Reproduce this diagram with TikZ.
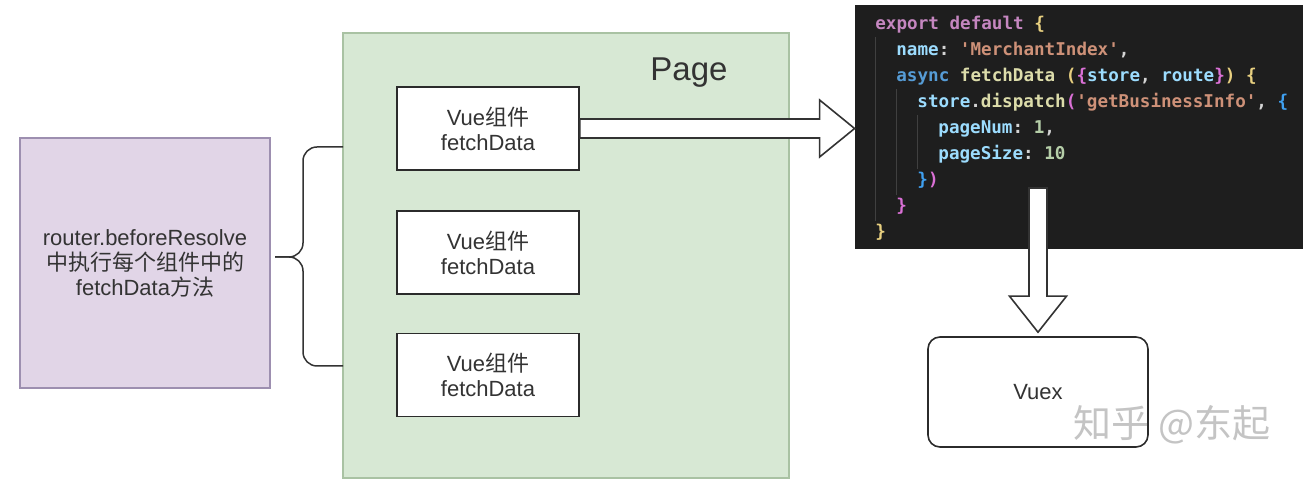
\documentclass[tikz,border=0pt]{standalone}
\usepackage{fontspec}
\setmainfont{Liberation Sans}
\setmonofont{DejaVu Sans Mono}
\newfontfamily\cjk{Noto Sans CJK SC}
\usetikzlibrary{calc}
\definecolor{purplefill}{HTML}{E1D5E7}
\definecolor{purpleline}{HTML}{9D8FB0}
\definecolor{greenfill}{HTML}{D7E8D4}
\definecolor{greenline}{HTML}{A9C2A3}
\definecolor{txt}{HTML}{333333}
\definecolor{boxline}{HTML}{2B2B2B}
\definecolor{arrline}{HTML}{333333}
\definecolor{codebg}{HTML}{1E1E1E}
\definecolor{ckw}{HTML}{C586C0}
\definecolor{cvar}{HTML}{9CDCFE}
\definecolor{cstr}{HTML}{CE9178}
\definecolor{cfn}{HTML}{DCDCAA}
\definecolor{cblue}{HTML}{569CD6}
\definecolor{cnum}{HTML}{B5CEA8}
\definecolor{cbra}{HTML}{E8D080}
\definecolor{cpink}{HTML}{DA70D6}
\definecolor{cbrb}{HTML}{3FA0F0}
\definecolor{cpunc}{HTML}{D4D4D4}
\definecolor{cguide}{HTML}{404040}
\definecolor{wmark}{HTML}{C4C4C4}
\newcommand{\codec}[2]{{\color{#1}#2}}
\begin{document}
\begin{tikzpicture}[x=0.5pt,y=-0.5pt,
  lbl/.style={font=\fontsize{11pt}{12.5pt}\selectfont, text=txt, align=center},
  vuebox/.style={draw=boxline, line width=0.8pt, fill=white, minimum width=91pt, minimum height=41.5pt, inner sep=0pt, lbl},
  bigarrow/.style={draw=arrline, line width=0.8pt, fill=white, line join=miter},
  codeline/.style={anchor=base west, inner sep=0pt, font=\ttfamily\bfseries\fontsize{8.8pt}{10pt}\selectfont},
  guide/.style={draw=cguide, line width=0.5pt},
  bracestyle/.style={draw=arrline, line width=0.75pt, rounded corners=7pt},
]
\useasboundingbox (0,0) rectangle (1314,490);
\fill[white] (0,0) rectangle (1314,490);

% Page container
\node[draw=greenline, fill=greenfill, line width=0.6pt, minimum width=223pt, minimum height=222.5pt, inner sep=0pt] (page) at (566,255.5) {};
\node[font=\fontsize{16.5pt}{18pt}\selectfont, text=txt, inner sep=0pt] (pagelabel) at (689,73) {Page};

% router box
\node[draw=purpleline, fill=purplefill, line width=0.6pt, minimum width=125pt, minimum height=125pt, inner sep=0pt, lbl] (router) at (145,263)
  {router.beforeResolve\\{\cjk 中执行每个组件中的}\\fetchData{\cjk 方法}};

% Vue components
\node[vuebox] (v1) at (488,128.5) {Vue{\cjk 组件}\\fetchData};
\node[vuebox] (v2) at (488,252.5) {Vue{\cjk 组件}\\fetchData};
\node[vuebox] (v3) at (488,375) {Vue{\cjk 组件}\\fetchData};

% brace
\coordinate (btop) at (343,147);
\coordinate (bbot) at (343,366);
\coordinate (btip) at (275,257);
\draw[bracestyle] (btop) -- (303,147) -- (303,257) -- (btip);
\draw[bracestyle] (bbot) -- (303,366) -- (303,257) -- (btip);

% code box
\node[fill=codebg, minimum width=224pt, minimum height=122pt, inner sep=0pt] (code) at (1079,127) {};
\draw[guide] (875,37) -- (875,221);
\draw[guide] (896,89) -- (896,195);
\draw[guide] (917,115) -- (917,169);
\node[codeline] (c1) at (875,30) {\codec{ckw}{export default} \codec{cbra}{\{}};
\node[codeline] (c2) at (896,56) {\codec{cvar}{name}\codec{cpunc}{:} \codec{cstr}{'MerchantIndex'}\codec{cpunc}{,}};
\node[codeline] (c3) at (896,82) {\codec{cblue}{async} \codec{cfn}{fetchData} \codec{cbra}{(}\codec{cpink}{\{}\codec{cvar}{store}\codec{cpunc}{,} \codec{cvar}{route}\codec{cpink}{\}}\codec{cbra}{)} \codec{cbra}{\{}};
\node[codeline] (c4) at (917,108) {\codec{cvar}{store}\codec{cpunc}{.}\codec{cfn}{dispatch}\codec{cpink}{(}\codec{cstr}{'getBusinessInfo'}\codec{cpunc}{,} \codec{cbrb}{\{}};
\node[codeline] (c5) at (938,134) {\codec{cvar}{pageNum}\codec{cpunc}{:} \codec{cnum}{1}\codec{cpunc}{,}};
\node[codeline] (c6) at (938,160) {\codec{cvar}{pageSize}\codec{cpunc}{:} \codec{cnum}{10}};
\node[codeline] (c7) at (917,186) {\codec{cbrb}{\}}\codec{cpink}{)}};
\node[codeline] (c8) at (896,212) {\codec{cpink}{\}}};
\node[codeline] (c9) at (875,238) {\codec{cbra}{\}}};

% Vuex
\node[draw=boxline, line width=0.8pt, fill=white, rounded corners=6pt, minimum width=110pt, minimum height=55pt, inner sep=0pt, lbl] (vuex) at (1038,392) {Vuex};

% arrow Vue -> code
\coordinate (ltip) at (v1.east -| code.west);
\draw[bigarrow] ($(v1.east)+(0,-9.5)$) -- ($(ltip)+(-35,-9.5)$) -- ($(ltip)+(-35,-28.5)$) -- (ltip)
  -- ($(ltip)+(-35,28.5)$) -- ($(ltip)+(-35,9.5)$) -- ($(v1.east)+(0,9.5)$) -- cycle;

% arrow code -> Vuex
\coordinate (dstart) at (1038,188);
\coordinate (dtip) at ($(vuex.north)+(0,-4)$);
\draw[bigarrow] ($(dstart)+(-9,0)$) -- ($(dtip)+(-9,-36)$) -- ($(dtip)+(-28.5,-36)$) -- (dtip)
  -- ($(dtip)+(28.5,-36)$) -- ($(dtip)+(9,-36)$) -- ($(dstart)+(9,0)$) -- cycle;

% watermark
\node[font=\cjk\fontsize{19pt}{21pt}\selectfont, text=wmark, inner sep=0pt] (wm) at (1172,425) {知乎 @东起};
\end{tikzpicture}
\end{document}
